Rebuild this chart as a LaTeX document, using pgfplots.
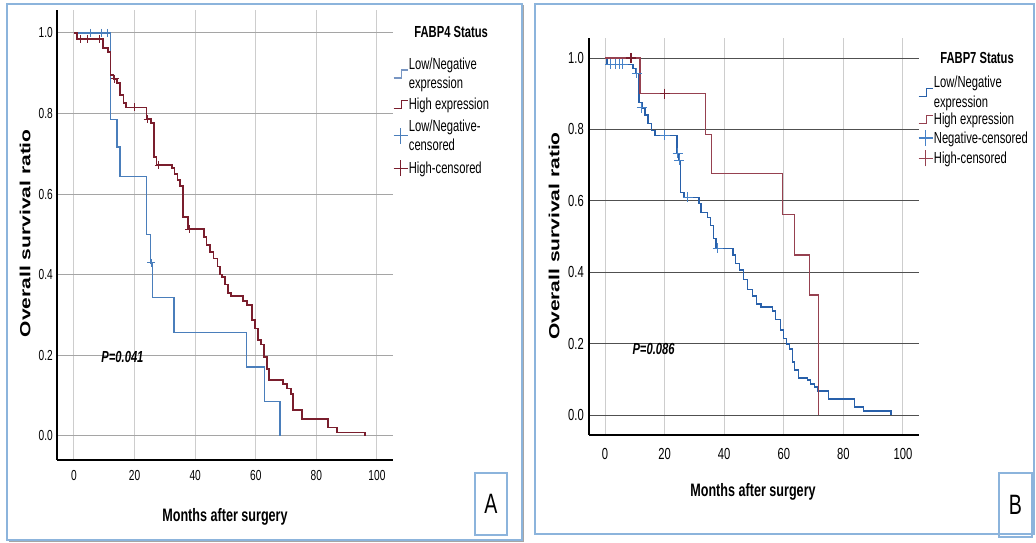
\documentclass[border=0pt]{standalone}
\usepackage{pgfplots}
\pgfplotsset{compat=1.18}
\usepackage{fontspec}
\setmainfont{Liberation Sans}[FakeStretch=0.7]
\newfontfamily\widefont{Liberation Sans}
\usepackage{graphicx}
\definecolor{ablue}{RGB}{74,126,187}
\definecolor{ared}{RGB}{122,30,45}
\definecolor{bblue}{RGB}{40,96,170}
\definecolor{bcens}{RGB}{70,130,200}
\definecolor{bred}{RGB}{150,65,80}
\definecolor{bordc}{RGB}{140,180,220}
\definecolor{licon}{RGB}{120,150,195}
\definecolor{hgridA}{RGB}{165,165,165}
\definecolor{hgridB}{RGB}{80,80,80}
\definecolor{vgrid}{RGB}{205,205,205}
\pgfplotsset{
 kmaxis/.style={
   scale only axis, anchor=south west,
   axis x line*=bottom, axis y line*=left,
   axis line style={line width=1.6pt, black, -},
   xtick={0,20,40,60,80,100}, ytick={0,0.2,0.4,0.6,0.8,1.0},
   grid=major, major tick length=0pt,
   major x grid style={vgrid, line width=1pt},
   /pgf/number format/assume math mode=true,
   yticklabel style={/pgf/number format/fixed, /pgf/number format/fixed zerofill, /pgf/number format/precision=1, anchor=east, inner sep=0pt},
   xticklabel style={anchor=center, inner sep=0pt},
   legend cell align=left,
   legend style={draw=none, fill=none, inner sep=0pt, outer sep=0pt, row sep=4pt, font=\fontsize{16}{19.5}\selectfont, nodes={inner sep=0.5pt, align=left}},
   every axis x label/.style={anchor=center, font=\bfseries\fontsize{18}{20}\selectfont},
   every axis y label/.style={anchor=center, rotate=90},
   clip=false,
 },
 stepicon/.style={legend image code/.code={\draw[line width=1.1pt] (0pt,-4pt) -- (8pt,-4pt) -- (8pt,4pt) -- (14pt,4pt);}},
 crossicon/.style={legend image code/.code={\draw[line width=1.4pt] (0pt,0pt) -- (14pt,0pt) (7pt,-8pt) -- (7pt,8pt);}},
}
\begin{document}
\begin{tikzpicture}
\useasboundingbox (0pt,0pt) rectangle (1036pt,543pt);
\fill[white] (0pt,0pt) rectangle (1036pt,543pt);
% panel borders
\draw[gray!70, line width=1.5pt] (8.5pt,2pt) -- (523.5pt,2pt) -- (523.5pt,538pt);
\draw[bordc, line width=1.5pt] (7pt,3pt) rectangle (522pt,539pt);
\draw[bordc, line width=1.5pt] (535pt,9pt) rectangle (1034pt,539pt);
\draw[bordc, line width=1.2pt] (475pt,8pt) rectangle (507pt,70pt);
\draw[bordc, line width=1.2pt] (999pt,6pt) rectangle (1032pt,70pt);
\node[font=\fontsize{28}{30}\selectfont] at (491pt,39pt) {A};
\node[font=\fontsize{28}{30}\selectfont] at (1015.5pt,38pt) {B};

% ---------------- Panel A
\begin{axis}[kmaxis, at={(57pt,83pt)}, width=336pt, height=450pt,
  xmin=-5.6, xmax=105.3, ymin=-0.06, ymax=1.057,
  major y grid style={hgridA, line width=1pt},
  tick label style={font=\fontsize{14.5}{16}\selectfont},
  yticklabel style={xshift=-4pt},
  xticklabel style={yshift=-16pt},
  xlabel={Months after surgery},
  xlabel style={at={(axis description cs:0.5,-0.127)}},
  ylabel={\scalebox{1}[0.7]{\widefont\bfseries\fontsize{21}{24}\selectfont Overall survival ratio}},
  ylabel style={at={(axis description cs:-0.095,0.504)}},
  legend style={at={(axis description cs:1.0,0.895)}, anchor=north west, row sep=7pt},
]
\addlegendimage{licon, stepicon}\addlegendentry{Low/Negative\\expression}
\addlegendimage{ared, stepicon}\addlegendentry{High expression}
\addlegendimage{ablue, crossicon}\addlegendentry{Low/Negative-\\censored}
\addlegendimage{ared, crossicon}\addlegendentry{High-censored}

\addplot[ablue, line width=1.2pt, const plot, forget plot] coordinates {
(0,1) (12,0.786) (14.2,0.717) (15.2,0.643) (24,0.50) (25.3,0.429) (26,0.343)
(33,0.257) (57,0.171) (63,0.086) (68,0)};
\addplot[ablue, only marks, mark=+, mark size=4pt, mark options={line width=1pt}, forget plot] coordinates {
(5.5,1) (9,1) (11,1) (25.5,0.429)};

\addplot[ared, line width=1.4pt, const plot, forget plot] coordinates {
(0,1) (1,0.985) (9.6,0.963) (11.2,0.953) (12,0.896) (13,0.886) (14.2,0.876)
(15.2,0.846) (16.3,0.826) (17.2,0.815) (24,0.786) (25.4,0.776) (26.4,0.692)
(27.2,0.672) (32.3,0.665) (33.2,0.650) (34.2,0.635) (35,0.620) (36,0.543)
(37.7,0.513) (42.9,0.494) (43.8,0.474) (44.9,0.456) (46,0.44) (47.4,0.42)
(48.2,0.40) (48.8,0.394) (49.8,0.375) (50.9,0.355) (51.8,0.347) (55.8,0.335)
(57.1,0.325) (58.7,0.288) (59.7,0.266) (60.7,0.238) (61.7,0.226) (62.7,0.196)
(63.7,0.166) (64.4,0.139) (69,0.129) (70.3,0.117) (71.6,0.104) (72.3,0.064)
(75.2,0.042) (83.8,0.02) (86.8,0.008) (96,0)};
\addplot[ared, only marks, mark=+, mark size=4pt, mark options={line width=1pt}, forget plot] coordinates {
(2,0.985) (4.5,0.985) (8.5,0.985) (13.4,0.886) (20,0.815) (24.3,0.786) (28,0.672) (38,0.513)};

\node[anchor=west, font=\bfseries\itshape\fontsize{16}{19}\selectfont] at (axis cs:7.9,0.196) {P=0.041};
\node[font=\bfseries\fontsize{16}{19}\selectfont] at (axis description cs:1.173,0.951) {FABP4 Status};
\end{axis}

% ---------------- Panel B
\begin{axis}[kmaxis, at={(589pt,108pt)}, width=330pt, height=397pt,
  xmin=-5.37, xmax=105.4, ymin=-0.056, ymax=1.056,
  major y grid style={hgridB, line width=0.9pt},
  tick label style={font=\fontsize{16}{18}\selectfont},
  yticklabel style={xshift=-5pt},
  xticklabel style={yshift=-19pt},
  xlabel={Months after surgery},
  xlabel style={at={(axis description cs:0.497,-0.144)}},
  ylabel={\scalebox{1}[0.7]{\widefont\bfseries\fontsize{21}{23}\selectfont Overall survival ratio}},
  ylabel style={at={(axis description cs:-0.106,0.501)}},
  legend style={at={(axis description cs:0.997,0.905)}, anchor=north west, row sep=3pt},
]
\addlegendimage{bblue, stepicon}\addlegendentry{Low/Negative\\expression}
\addlegendimage{bred, stepicon}\addlegendentry{High expression}
\addlegendimage{bcens, crossicon}\addlegendentry{Negative-censored}
\addlegendimage{bred, crossicon}\addlegendentry{High-censored}

\addplot[bblue, line width=1.4pt, const plot, forget plot] coordinates {
(0,1) (0.7,0.982) (9.4,0.971) (10.4,0.957) (11.4,0.876) (12.4,0.86) (13.4,0.84)
(14.4,0.817) (15.7,0.797) (16.8,0.783) (24.1,0.733) (24.8,0.713) (25.4,0.624)
(26.5,0.61) (31.5,0.593) (32.2,0.568) (34.5,0.554) (35.5,0.53) (36.4,0.495)
(37.2,0.467) (42.9,0.448) (43.9,0.425) (45.2,0.406) (46.5,0.38) (47.9,0.352)
(49.6,0.333) (50.9,0.311) (52.3,0.302) (56.3,0.291) (57.3,0.268) (59,0.238)
(60,0.215) (61,0.199) (62,0.185) (63,0.148) (63.7,0.126) (65,0.104) (68,0.098)
(69,0.087) (70.4,0.078) (71.4,0.067) (75,0.045) (83.8,0.022) (86.8,0.011) (96,0)};
\addplot[bcens, only marks, mark=+, mark size=5pt, mark options={line width=1pt}, forget plot] coordinates {
(1.7,0.982) (3.4,0.982) (5,0.982) (6,0.982) (10.7,0.957) (12.4,0.86) (20,0.783)
(24.4,0.733) (25,0.713) (27.8,0.61) (37.8,0.467)};

\addplot[bred, line width=1.3pt, const plot, forget plot] coordinates {
(0,1) (11.7,0.90) (33.8,0.786) (35.8,0.677) (59.6,0.562) (63.7,0.448) (68.7,0.336) (71.7,0)};
\addplot[ared, only marks, mark=+, mark size=5pt, mark options={line width=1.2pt}, forget plot] coordinates {
(8.7,1) (20,0.90)};

\node[anchor=west, font=\bfseries\itshape\fontsize{16}{19}\selectfont] at (axis cs:8.05,0.185) {P=0.086};
\node[font=\bfseries\fontsize{16}{19}\selectfont] at (axis description cs:1.176,0.950) {FABP7 Status};
\end{axis}
\end{tikzpicture}
\end{document}
